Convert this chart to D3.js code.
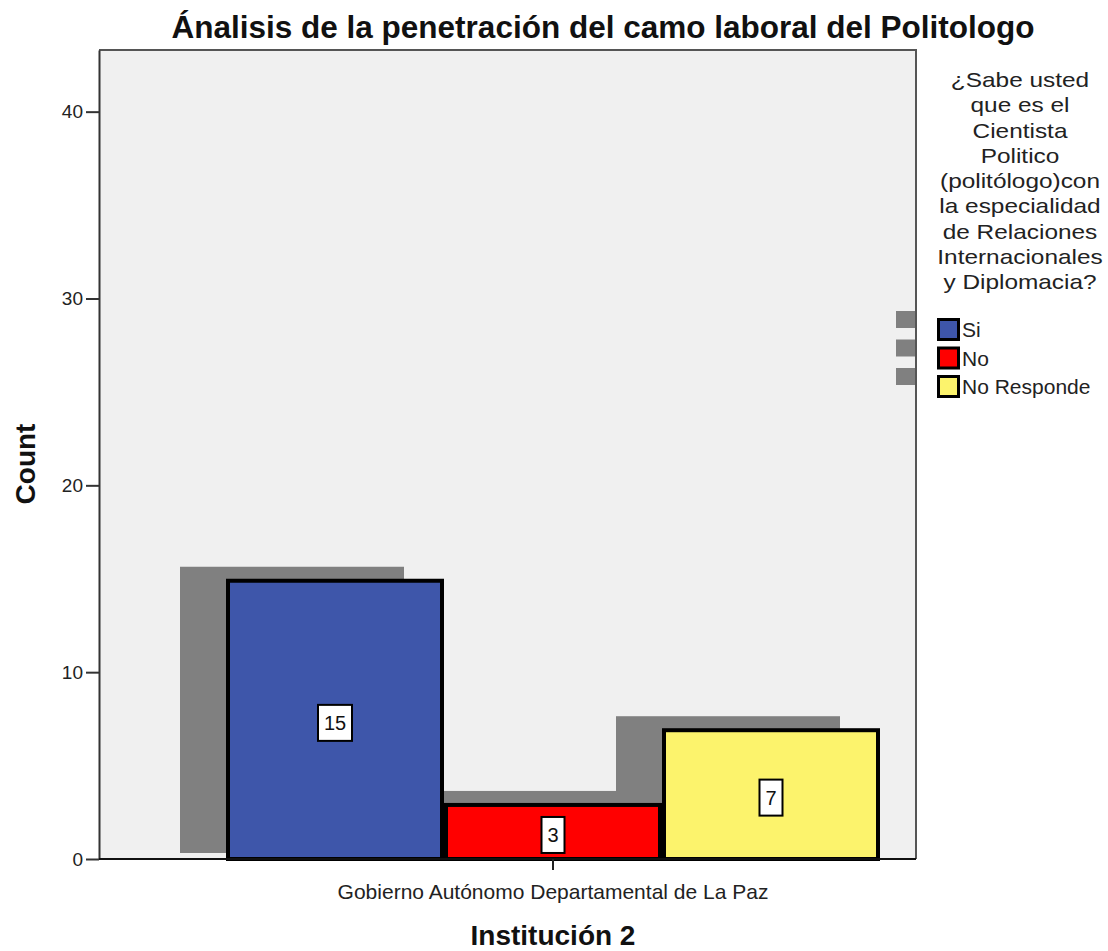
<!DOCTYPE html>
<html>
<head>
<meta charset="utf-8">
<script src="https://cdn.jsdelivr.net/npm/d3@7"></script>
<style>
  body { margin: 0; background: #fff; }
  svg { display: block; font-family: "Liberation Sans", Arial, sans-serif; }
</style>
</head>
<body>
<svg id="chart" width="1108" height="951"></svg>
<script>
// chart data
const categories = ['Gobierno Autónomo Departamental de La Paz'];
const seriesNames = ['Si', 'No', 'No Responde'];
const seriesColors = ['#3e56aa', '#ff0000', '#fcf36c'];
const counts = [15, 3, 7]; // one value per series, single category
const yTicks = [0, 10, 20, 30, 40];
const legendTitleLines = ['¿Sabe usted', 'que es el', 'Cientista', 'Politico',
  '(politólogo)con', 'la especialidad', 'de Relaciones', 'Internacionales', 'y Diplomacia?'];

const W = 1108;
const H = 951;
const plot = { left: 99, top: 50, right: 916, bottom: 859 };

const svg = d3.select('#chart');

// y scale
const y = d3.scaleLinear()
  .domain([0, 43.3])
  .range([plot.bottom, plot.top]);

// category band, then series inside it
const x = d3.scaleBand()
  .domain(categories)
  .range([plot.left + 127, plot.left + 781]);

const xs = d3.scaleBand()
  .domain(seriesNames)
  .range([0, x.bandwidth()]);

const color = d3.scaleOrdinal().domain(seriesNames).range(seriesColors);

const data = seriesNames.map((s, i) => ({ cat: categories[0], series: s, value: counts[i] }));

// plot background
svg.append('rect')
  .attr('x', plot.left)
  .attr('y', plot.top)
  .attr('width', plot.right - plot.left)
  .attr('height', plot.bottom - plot.top)
  .attr('fill', '#f0f0f0');

// drop shadows first, so every bar sits above them
const shadowDx = -46;
svg.append('g')
  .selectAll('rect')
  .data(data)
  .enter()
  .append('rect')
    .attr('x', (d) => x(d.cat) + xs(d.series) + shadowDx)
    .attr('y', (d) => y(d.value) - 12)
    .attr('width', xs.bandwidth() + 6)
    .attr('height', (d) => (y(0) - 6) - (y(d.value) - 12))
    .attr('fill', '#808080');

// bars
const sw = 4;
svg.append('g')
  .selectAll('rect')
  .data(data)
  .enter()
  .append('rect')
    .attr('x', (d) => x(d.cat) + xs(d.series) + sw / 2)
    .attr('y', (d) => y(d.value) + sw / 2)
    .attr('width', xs.bandwidth() - sw)
    .attr('height', (d) => y(0) - y(d.value) - sw / 2)
    .attr('fill', (d) => color(d.series))
    .attr('stroke', '#000')
    .attr('stroke-width', sw);

// value labels in white boxes
const labels = svg.append('g')
  .selectAll('g')
  .data(data)
  .enter()
  .append('g')
    .attr('transform', (d) => `translate(${x(d.cat) + xs(d.series) + xs.bandwidth() / 2}, ${(y(d.value) + y(0)) / 2 + 4})`);

labels.append('rect')
  .attr('x', (d) => -(String(d.value).length * 11 + 12) / 2)
  .attr('y', -18)
  .attr('width', (d) => String(d.value).length * 11 + 12)
  .attr('height', 36)
  .attr('fill', '#fff')
  .attr('stroke', '#000')
  .attr('stroke-width', 2);

labels.append('text')
  .attr('text-anchor', 'middle')
  .attr('dy', 7)
  .attr('font-size', 20)
  .attr('fill', '#111')
  .text((d) => d.value);

// frame: top and right
svg.append('path')
  .attr('d', `M${plot.left},${plot.top}H${plot.right}V${plot.bottom}`)
  .attr('fill', 'none')
  .attr('stroke', '#555')
  .attr('stroke-width', 2);

// y axis
const yAxis = svg.append('g')
  .attr('transform', `translate(${plot.left}, 0)`)
  .call(d3.axisLeft(y).tickValues(yTicks).tickSize(13).tickPadding(3).tickSizeOuter(0));
yAxis.select('.domain').attr('stroke', '#333').attr('stroke-width', 2);
yAxis.selectAll('.tick line').attr('stroke', '#333').attr('stroke-width', 2);
yAxis.selectAll('.tick text')
  .attr('font-family', '"Liberation Sans", Arial, sans-serif')
  .attr('font-size', 19)
  .attr('fill', '#222');

// x axis
const xAxis = svg.append('g')
  .attr('transform', `translate(0, ${plot.bottom})`)
  .call(d3.axisBottom(x).tickSize(11).tickPadding(14).tickSizeOuter(0));
xAxis.select('.domain')
  .attr('d', `M${plot.left},0H${plot.right}`)
  .attr('stroke', '#111')
  .attr('stroke-width', 2);
xAxis.selectAll('.tick line').attr('stroke', '#222').attr('stroke-width', 2);
xAxis.selectAll('.tick text')
  .attr('font-family', '"Liberation Sans", Arial, sans-serif')
  .attr('font-size', 21)
  .attr('fill', '#222');

// titles
svg.append('text')
  .attr('x', 603)
  .attr('y', 38)
  .attr('text-anchor', 'middle')
  .attr('font-weight', 'bold')
  .attr('font-size', 31.5)
  .attr('fill', '#111')
  .text('Ánalisis de la penetración del camo laboral del Politologo');

svg.append('text')
  .attr('x', (plot.left + 127 + plot.left + 781) / 2)
  .attr('y', 945)
  .attr('text-anchor', 'middle')
  .attr('font-weight', 'bold')
  .attr('font-size', 28)
  .attr('fill', '#111')
  .text('Institución 2');

svg.append('text')
  .attr('transform', 'translate(35, 464) rotate(-90)')
  .attr('text-anchor', 'middle')
  .attr('font-weight', 'bold')
  .attr('font-size', 28)
  .attr('fill', '#111')
  .text('Count');

// legend title (the original glyphs are wide, so stretch horizontally)
const lt = svg.append('g')
  .attr('transform', 'translate(1020, 0) scale(1.22, 1)');
lt.selectAll('text')
  .data(legendTitleLines)
  .enter()
  .append('text')
    .attr('x', 0)
    .attr('y', (d, i) => 87 + i * 25.3)
    .attr('text-anchor', 'middle')
    .attr('font-size', 20)
    .attr('fill', '#222')
    .text((d) => d);

// legend items
const legend = svg.append('g');
const rowY = (i) => 318 + i * 28.5;

legend.selectAll('rect.shadow')
  .data(seriesNames)
  .enter()
  .append('rect')
    .attr('class', 'shadow')
    .attr('x', 896)
    .attr('y', (d, i) => rowY(i) - 7)
    .attr('width', 19)
    .attr('height', 17)
    .attr('fill', '#808080');

legend.selectAll('rect.swatch')
  .data(seriesNames)
  .enter()
  .append('rect')
    .attr('class', 'swatch')
    .attr('x', 938.5)
    .attr('y', (d, i) => rowY(i) + 1.5)
    .attr('width', 20)
    .attr('height', 20)
    .attr('fill', (d) => color(d))
    .attr('stroke', '#000')
    .attr('stroke-width', 3);

legend.selectAll('text')
  .data(seriesNames)
  .enter()
  .append('text')
    .attr('x', 962)
    .attr('y', (d, i) => rowY(i) + 19)
    .attr('font-size', 21)
    .attr('fill', '#222')
    .text((d) => d);
</script>
</body>
</html>
